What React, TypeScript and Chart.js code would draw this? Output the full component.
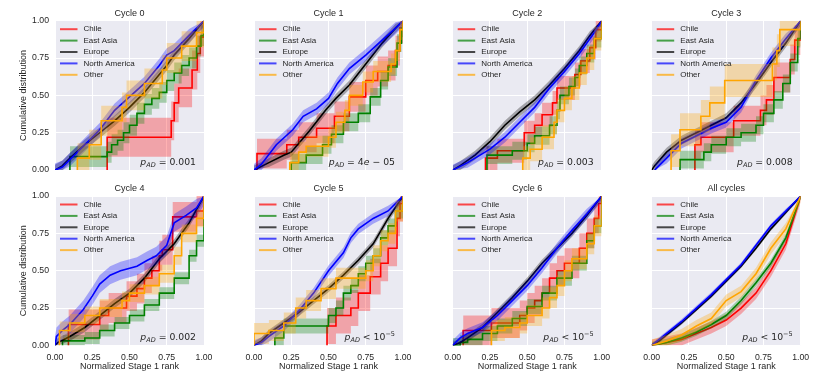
import React, { useEffect, useRef } from 'react';
import { Chart, registerables } from 'chart.js';

Chart.register(...registerables);

type Pt = [number, number];

const groups = ['Chile', 'East Asia', 'Europe', 'North America', 'Other'];
const groupColors: [number, number, number][] = [
  [255, 0, 0],
  [0, 128, 0],
  [0, 0, 0],
  [0, 0, 255],
  [255, 165, 0],
];
const panelTitles = ['Cycle 0', 'Cycle 1', 'Cycle 2', 'Cycle 3', 'Cycle 4', 'Cycle 5', 'Cycle 6', 'All cycles'];
const tickValues = [0, 0.25, 0.5, 0.75, 1];
const yAxisTitle = 'Cumulative distribution';
const xAxisTitle = 'Normalized Stage 1 rank';
const pOps = ['=', '=', '=', '=', '=', '<', '<', '<'];
const pValues = ['0.001', '4e-05', '0.003', '0.008', '0.002', '10', '10', '10'];
const pExps = ['', '', '', '', '', '\u22125', '\u22125', '\u22125'];

// ---- Cycle 0 ----
const c0Chile: Pt[] = [[0.35, 0], [0.35, 0.22], [0.78, 0.33], [0.8, 0.45], [0.83, 0.55], [0.92, 0.67], [0.955, 0.78], [0.975, 0.89], [1, 1]];
const c0EastAsia: Pt[] = [[0.1, 0], [0.1, 0.09], [0.35, 0.12], [0.38, 0.17], [0.42, 0.2], [0.46, 0.25], [0.5, 0.3], [0.55, 0.38], [0.6, 0.44], [0.65, 0.48], [0.7, 0.52], [0.75, 0.6], [0.8, 0.65], [0.85, 0.7], [0.9, 0.75], [0.95, 0.83], [0.98, 0.9], [1, 1]];
const c0Europe: Pt[] = [[0, 0], [0.05, 0.03], [0.1, 0.08], [0.2, 0.17], [0.25, 0.21], [0.3, 0.25], [0.4, 0.33], [0.5, 0.42], [0.6, 0.52], [0.7, 0.64], [0.75, 0.7], [0.8, 0.77], [0.9, 0.88], [1, 1]];
const c0NorthAmerica: Pt[] = [[0, 0], [0.05, 0.02], [0.1, 0.07], [0.2, 0.17], [0.3, 0.27], [0.4, 0.4], [0.5, 0.49], [0.6, 0.58], [0.7, 0.7], [0.75, 0.77], [0.8, 0.8], [0.9, 0.9], [1, 1]];
const c0Other: Pt[] = [[0.15, 0], [0.15, 0.08], [0.23, 0.17], [0.31, 0.33], [0.45, 0.42], [0.48, 0.5], [0.6, 0.58], [0.72, 0.67], [0.75, 0.75], [0.85, 0.83], [0.95, 0.92], [1, 1]];

// ---- Cycle 1 ----
const c1Chile: Pt[] = [[0.02, 0], [0.02, 0.11], [0.22, 0.17], [0.3, 0.22], [0.42, 0.28], [0.54, 0.36], [0.64, 0.49], [0.75, 0.6], [0.83, 0.66], [0.9, 0.7], [0.95, 0.8], [0.98, 0.95], [1, 1]];
const c1EastAsia: Pt[] = [[0.25, 0], [0.25, 0.05], [0.35, 0.1], [0.46, 0.17], [0.52, 0.24], [0.6, 0.32], [0.7, 0.38], [0.78, 0.49], [0.85, 0.6], [0.9, 0.69], [0.96, 0.85], [0.99, 0.95], [1, 1]];
const c1Europe: Pt[] = [[0, 0], [0.1, 0.05], [0.2, 0.1], [0.25, 0.12], [0.37, 0.26], [0.48, 0.4], [0.55, 0.48], [0.64, 0.57], [0.75, 0.71], [0.86, 0.85], [0.95, 0.95], [1, 1]];
const c1NorthAmerica: Pt[] = [[0, 0], [0.05, 0.04], [0.15, 0.17], [0.26, 0.27], [0.33, 0.36], [0.42, 0.41], [0.5, 0.48], [0.56, 0.58], [0.64, 0.68], [0.75, 0.77], [0.86, 0.87], [0.95, 0.95], [1, 1]];
const c1Other: Pt[] = [[0.24, 0], [0.24, 0.05], [0.3, 0.12], [0.35, 0.16], [0.5, 0.22], [0.55, 0.32], [0.61, 0.4], [0.64, 0.5], [0.73, 0.59], [0.8, 0.66], [0.92, 0.71], [0.95, 0.8], [0.98, 0.94], [1, 1]];

// ---- Cycle 2 ----
const c2Chile: Pt[] = [[0.22, 0], [0.22, 0.08], [0.3, 0.13], [0.48, 0.25], [0.55, 0.3], [0.6, 0.37], [0.67, 0.45], [0.7, 0.55], [0.82, 0.64], [0.86, 0.73], [0.92, 0.82], [0.96, 0.94], [1, 1]];
const c2EastAsia: Pt[] = [[0.23, 0], [0.23, 0.1], [0.4, 0.13], [0.5, 0.18], [0.55, 0.23], [0.65, 0.3], [0.7, 0.4], [0.72, 0.5], [0.78, 0.56], [0.82, 0.62], [0.85, 0.7], [0.9, 0.78], [0.95, 0.88], [1, 1]];
const c2Europe: Pt[] = [[0, 0], [0.05, 0.03], [0.15, 0.1], [0.25, 0.19], [0.35, 0.3], [0.45, 0.39], [0.55, 0.47], [0.65, 0.57], [0.75, 0.68], [0.85, 0.8], [0.92, 0.9], [1, 1]];
const c2NorthAmerica: Pt[] = [[0, 0], [0.1, 0.05], [0.25, 0.14], [0.35, 0.22], [0.45, 0.32], [0.55, 0.42], [0.65, 0.55], [0.75, 0.66], [0.85, 0.78], [0.95, 0.92], [1, 1]];
const c2Other: Pt[] = [[0.47, 0], [0.47, 0.08], [0.52, 0.14], [0.6, 0.22], [0.68, 0.32], [0.7, 0.4], [0.75, 0.48], [0.8, 0.55], [0.85, 0.65], [0.9, 0.75], [0.95, 0.88], [1, 1]];

// ---- Cycle 3 ----
const c3Chile: Pt[] = [[0.29, 0], [0.29, 0.17], [0.33, 0.22], [0.55, 0.33], [0.73, 0.4], [0.77, 0.47], [0.82, 0.62], [0.93, 0.74], [0.96, 0.87], [1, 1]];
const c3EastAsia: Pt[] = [[0.19, 0], [0.19, 0.07], [0.35, 0.12], [0.4, 0.17], [0.5, 0.22], [0.6, 0.25], [0.7, 0.3], [0.75, 0.38], [0.82, 0.47], [0.88, 0.58], [0.93, 0.72], [0.98, 0.88], [1, 1]];
const c3Europe: Pt[] = [[0, 0], [0.02, 0.03], [0.1, 0.12], [0.2, 0.2], [0.3, 0.25], [0.4, 0.3], [0.5, 0.35], [0.6, 0.45], [0.7, 0.58], [0.8, 0.72], [0.9, 0.85], [1, 1]];
const c3NorthAmerica: Pt[] = [[0.02, 0], [0.1, 0.08], [0.2, 0.18], [0.3, 0.23], [0.4, 0.28], [0.5, 0.32], [0.6, 0.42], [0.7, 0.6], [0.8, 0.75], [0.9, 0.88], [1, 1]];
const c3Other: Pt[] = [[0.13, 0], [0.13, 0.13], [0.19, 0.27], [0.33, 0.36], [0.39, 0.45], [0.49, 0.6], [0.81, 0.71], [0.84, 0.8], [0.86, 0.94], [1, 1]];

// ---- Cycle 4 ----
const c4Chile: Pt[] = [[0.09, 0], [0.09, 0.14], [0.3, 0.2], [0.36, 0.25], [0.48, 0.33], [0.55, 0.38], [0.6, 0.45], [0.65, 0.5], [0.7, 0.6], [0.72, 0.64], [0.79, 0.86], [0.95, 0.9], [1, 1]];
const c4EastAsia: Pt[] = [[0.05, 0], [0.05, 0.03], [0.2, 0.05], [0.3, 0.1], [0.4, 0.15], [0.5, 0.2], [0.6, 0.27], [0.7, 0.35], [0.8, 0.45], [0.9, 0.6], [0.95, 0.7], [1, 1]];
const c4Europe: Pt[] = [[0, 0], [0.02, 0.02], [0.1, 0.06], [0.2, 0.12], [0.3, 0.2], [0.4, 0.28], [0.5, 0.35], [0.6, 0.45], [0.7, 0.58], [0.8, 0.68], [0.9, 0.82], [1, 1]];
const c4NorthAmerica: Pt[] = [[0, 0], [0.01, 0.06], [0.05, 0.1], [0.1, 0.14], [0.19, 0.24], [0.25, 0.33], [0.3, 0.41], [0.37, 0.47], [0.44, 0.5], [0.55, 0.53], [0.62, 0.57], [0.68, 0.6], [0.75, 0.67], [0.8, 0.82], [0.88, 0.87], [0.95, 0.92], [1, 1]];
const c4Other: Pt[] = [[0.03, 0], [0.03, 0.1], [0.1, 0.15], [0.2, 0.2], [0.3, 0.25], [0.45, 0.3], [0.5, 0.35], [0.6, 0.4], [0.7, 0.48], [0.8, 0.6], [0.85, 0.75], [0.95, 0.85], [1, 1]];

// ---- Cycle 5 ----
const c5Chile: Pt[] = [[0.49, 0], [0.49, 0.13], [0.55, 0.2], [0.65, 0.25], [0.7, 0.35], [0.78, 0.46], [0.85, 0.55], [0.9, 0.65], [0.96, 0.85], [0.98, 0.95], [1, 1]];
const c5EastAsia: Pt[] = [[0.14, 0], [0.14, 0.05], [0.2, 0.13], [0.5, 0.2], [0.55, 0.25], [0.6, 0.35], [0.65, 0.4], [0.7, 0.48], [0.75, 0.55], [0.8, 0.6], [0.85, 0.72], [0.9, 0.8], [0.95, 0.9], [1, 1]];
const c5Europe: Pt[] = [[0, 0], [0.05, 0.03], [0.1, 0.08], [0.2, 0.15], [0.3, 0.22], [0.4, 0.3], [0.5, 0.38], [0.6, 0.47], [0.7, 0.57], [0.8, 0.68], [0.9, 0.85], [1, 1]];
const c5NorthAmerica: Pt[] = [[0, 0], [0.05, 0.02], [0.1, 0.06], [0.2, 0.13], [0.3, 0.23], [0.4, 0.35], [0.5, 0.5], [0.6, 0.62], [0.65, 0.72], [0.7, 0.78], [0.8, 0.85], [0.9, 0.9], [1, 1]];
const c5Other: Pt[] = [[0, 0], [0, 0.08], [0.1, 0.1], [0.2, 0.15], [0.28, 0.25], [0.35, 0.3], [0.45, 0.38], [0.55, 0.45], [0.75, 0.5], [0.8, 0.6], [0.85, 0.7], [0.9, 0.75], [0.95, 0.9], [1, 1]];

// ---- Cycle 6 ----
const c6Chile: Pt[] = [[0.07, 0], [0.07, 0.1], [0.26, 0.15], [0.45, 0.2], [0.5, 0.25], [0.55, 0.3], [0.6, 0.35], [0.65, 0.45], [0.7, 0.5], [0.75, 0.55], [0.85, 0.65], [0.9, 0.75], [0.95, 0.85], [0.98, 0.95], [1, 1]];
const c6EastAsia: Pt[] = [[0, 0], [0.05, 0.02], [0.1, 0.04], [0.2, 0.08], [0.3, 0.13], [0.4, 0.18], [0.5, 0.26], [0.6, 0.35], [0.7, 0.45], [0.8, 0.55], [0.9, 0.7], [0.95, 0.8], [1, 1]];
const c6Europe: Pt[] = [[0, 0], [0.05, 0.02], [0.1, 0.05], [0.2, 0.12], [0.3, 0.22], [0.4, 0.32], [0.5, 0.43], [0.6, 0.55], [0.7, 0.65], [0.8, 0.75], [0.9, 0.87], [1, 1]];
const c6NorthAmerica: Pt[] = [[0, 0], [0.05, 0.05], [0.1, 0.08], [0.2, 0.12], [0.3, 0.2], [0.4, 0.3], [0.5, 0.4], [0.6, 0.52], [0.7, 0.65], [0.8, 0.77], [0.9, 0.88], [1, 1]];
const c6Other: Pt[] = [[0.26, 0], [0.26, 0.1], [0.35, 0.12], [0.45, 0.15], [0.5, 0.2], [0.6, 0.25], [0.65, 0.32], [0.7, 0.4], [0.75, 0.5], [0.8, 0.58], [0.9, 0.68], [0.95, 0.8], [1, 1]];

// ---- All cycles ----
const allChile: Pt[] = [[0, 0], [0.1, 0.02], [0.2, 0.04], [0.3, 0.08], [0.4, 0.12], [0.5, 0.17], [0.6, 0.25], [0.7, 0.35], [0.8, 0.5], [0.9, 0.68], [1, 1]];
const allEastAsia: Pt[] = [[0, 0], [0.1, 0.02], [0.2, 0.05], [0.3, 0.09], [0.4, 0.14], [0.5, 0.2], [0.6, 0.3], [0.7, 0.42], [0.8, 0.55], [0.9, 0.72], [1, 1]];
const allEurope: Pt[] = [[0, 0], [0.05, 0.03], [0.1, 0.07], [0.2, 0.15], [0.3, 0.24], [0.4, 0.33], [0.5, 0.43], [0.6, 0.53], [0.7, 0.65], [0.8, 0.78], [0.9, 0.89], [1, 1]];
const allNorthAmerica: Pt[] = [[0, 0], [0.05, 0.04], [0.1, 0.08], [0.2, 0.16], [0.3, 0.25], [0.4, 0.34], [0.5, 0.44], [0.6, 0.54], [0.7, 0.67], [0.8, 0.8], [0.9, 0.9], [1, 1]];
const allOther: Pt[] = [[0, 0], [0.1, 0.03], [0.2, 0.07], [0.3, 0.13], [0.4, 0.18], [0.5, 0.3], [0.6, 0.36], [0.7, 0.48], [0.8, 0.65], [0.9, 0.78], [1, 1]];

const panelCurves: Pt[][][] = [
  [c0Chile, c0EastAsia, c0Europe, c0NorthAmerica, c0Other],
  [c1Chile, c1EastAsia, c1Europe, c1NorthAmerica, c1Other],
  [c2Chile, c2EastAsia, c2Europe, c2NorthAmerica, c2Other],
  [c3Chile, c3EastAsia, c3Europe, c3NorthAmerica, c3Other],
  [c4Chile, c4EastAsia, c4Europe, c4NorthAmerica, c4Other],
  [c5Chile, c5EastAsia, c5Europe, c5NorthAmerica, c5Other],
  [c6Chile, c6EastAsia, c6Europe, c6NorthAmerica, c6Other],
  [allChile, allEastAsia, allEurope, allNorthAmerica, allOther],
];

// confidence band half-widths per group (Chile, East Asia, Europe, North America, Other)
const c0Bands = [0.13, 0.07, 0.035, 0.045, 0.1];
const c1Bands = [0.1, 0.06, 0.03, 0.04, 0.07];
const c2Bands = [0.08, 0.06, 0.03, 0.035, 0.08];
const c3Bands = [0.1, 0.06, 0.03, 0.035, 0.11];
const c4Bands = [0.1, 0.04, 0.03, 0.06, 0.06];
const c5Bands = [0.12, 0.05, 0.025, 0.035, 0.07];
const c6Bands = [0.1, 0.05, 0.025, 0.035, 0.07];
const allBands = [0.04, 0.025, 0.012, 0.015, 0.04];
const panelBands = [c0Bands, c1Bands, c2Bands, c3Bands, c4Bands, c5Bands, c6Bands, allBands];

const cycleStepped = [true, true, false, false, true];
const allStepped = [false, false, false, false, false];
const panelStepped = [cycleStepped, cycleStepped, cycleStepped, cycleStepped, cycleStepped, cycleStepped, cycleStepped, allStepped];

// ---- layout ----
const W = 831;
const H = 381;
const PANEL_LEFT = [55, 254, 452.7, 651.7];
const PANEL_TOP = [20.7, 196];
const PANEL_W = 149;
const PANEL_H = 149.4;
const Y_AXIS_W = 45;
const X_AXIS_H = 25;
const TEXT = '#262626';
const SANS = '"Liberation Sans", Arial, sans-serif';
const MATH = '"DejaVu Sans", sans-serif';

const rgba = (c: [number, number, number], a: number) => `rgba(${c[0]},${c[1]},${c[2]},${a})`;

function drawAnnotation(ctx: CanvasRenderingContext2D, right: number, baseline: number, idx: number) {
  const fs = 9.3;
  const segs: { t: string; f: string; dy: number }[] = [
    { t: 'p', f: `italic ${fs}px ${MATH}`, dy: 0 },
    { t: 'AD', f: `italic ${fs * 0.7}px ${MATH}`, dy: fs * 0.22 },
  ];
  const op = pOps[idx];
  const val = pValues[idx];
  segs.push({ t: ` ${op} `, f: `${fs}px ${MATH}`, dy: 0 });
  if (val.includes('e-')) {
    const [m, e] = val.split('e-');
    segs.push({ t: m, f: `${fs}px ${MATH}`, dy: 0 });
    segs.push({ t: 'e', f: `italic ${fs}px ${MATH}`, dy: 0 });
    segs.push({ t: ` \u2212 ${e}`, f: `${fs}px ${MATH}`, dy: 0 });
  } else {
    segs.push({ t: val, f: `${fs}px ${MATH}`, dy: 0 });
  }
  if (pExps[idx]) segs.push({ t: pExps[idx], f: `${fs * 0.7}px ${MATH}`, dy: -fs * 0.42 });
  let total = 0;
  const widths = segs.map((s) => {
    ctx.font = s.f;
    const w = ctx.measureText(s.t).width;
    total += w;
    return w;
  });
  let x = right - total;
  ctx.fillStyle = TEXT;
  ctx.textAlign = 'left';
  ctx.textBaseline = 'alphabetic';
  segs.forEach((s, i) => {
    ctx.font = s.f;
    ctx.fillText(s.t, x, baseline + s.dy);
    x += widths[i];
  });
}

function Panel({ index }: { index: number }) {
  const ref = useRef<HTMLCanvasElement>(null);
  useEffect(() => {
    const canvas = ref.current;
    if (!canvas) return;
    const col = index % 4;
    const row = Math.floor(index / 4);
    const left = PANEL_LEFT[col];
    const top = PANEL_TOP[row];
    const datasets: any[] = [];
    let k = 0;
    panelCurves[index].forEach((pts, g) => {
      const eps = panelBands[index][g];
      const stepped = panelStepped[index][g];
      const color = groupColors[g];
      const lowerIdx = datasets.length;
      datasets.push({
        label: groups[g] + ' lower',
        data: pts.map(([x, y]) => ({ x, y: Math.max(0, y - eps) })),
        borderColor: 'rgba(0,0,0,0)',
        borderWidth: 1,
        pointRadius: 0,
        fill: false,
        stepped,
        order: -k++,
      });
      datasets.push({
        label: groups[g] + ' upper',
        data: pts.map(([x, y]) => ({ x, y: Math.min(1, y + eps) })),
        borderColor: 'rgba(0,0,0,0)',
        borderWidth: 1,
        backgroundColor: rgba(color, 0.3),
        pointRadius: 0,
        fill: lowerIdx,
        stepped,
        order: -k++,
      });
      datasets.push({
        label: groups[g],
        data: pts.map(([x, y]) => ({ x, y })),
        borderColor: rgba(color, 1),
        borderWidth: 1.6,
        pointRadius: 0,
        fill: false,
        stepped,
        order: -k++,
      });
    });

    const tickFont = { family: SANS, size: 8.7 };
    const panelDecor = {
      id: 'panelDecor',
      beforeDraw(chart: any) {
        const { ctx, chartArea: a } = chart;
        ctx.save();
        ctx.fillStyle = '#EAEAF2';
        ctx.fillRect(a.left, a.top, a.right - a.left, a.bottom - a.top);
        ctx.restore();
      },
      afterDraw(chart: any) {
        const { ctx, chartArea: a } = chart;
        ctx.save();
        // title
        ctx.fillStyle = TEXT;
        ctx.font = `9px ${SANS}`;
        ctx.textAlign = 'center';
        ctx.textBaseline = 'middle';
        ctx.fillText(panelTitles[index], (a.left + a.right) / 2, a.top - 7.5);
        // legend
        groups.forEach((name, g) => {
          const y = a.top + 8.5 + g * 11.4;
          ctx.strokeStyle = rgba(groupColors[g], 0.7);
          ctx.lineWidth = 2;
          ctx.beginPath();
          ctx.moveTo(a.left + 5, y);
          ctx.lineTo(a.left + 22.5, y);
          ctx.stroke();
          ctx.fillStyle = TEXT;
          ctx.font = `8px ${SANS}`;
          ctx.textAlign = 'left';
          ctx.textBaseline = 'middle';
          ctx.fillText(name, a.left + 28.5, y);
        });
        // p-value annotation
        drawAnnotation(ctx, a.right - 8, a.bottom - 5, index);
        // axis titles
        ctx.fillStyle = TEXT;
        ctx.font = `9px ${SANS}`;
        if (col === 0) {
          ctx.save();
          ctx.translate(24, (a.top + a.bottom) / 2);
          ctx.rotate(-Math.PI / 2);
          ctx.textAlign = 'center';
          ctx.textBaseline = 'middle';
          ctx.fillText(yAxisTitle, 0, 0);
          ctx.restore();
        }
        if (row === 1) {
          ctx.textAlign = 'center';
          ctx.textBaseline = 'middle';
          ctx.fillText(xAxisTitle, (a.left + a.right) / 2, 366.7);
        }
        ctx.restore();
      },
    };

    const chart = new Chart(canvas, {
      type: 'line',
      data: { datasets },
      options: {
        animation: false,
        responsive: false,
        devicePixelRatio: 1,
        events: [],
        layout: {
          autoPadding: false,
          padding: {
            left: left - Y_AXIS_W,
            top,
            right: W - left - PANEL_W,
            bottom: H - top - PANEL_H - X_AXIS_H,
          },
        },
        plugins: { legend: { display: false }, tooltip: { enabled: false }, title: { display: false } },
        scales: {
          x: {
            type: 'linear',
            min: 0,
            max: 1,
            afterFit: (s: any) => { s.height = X_AXIS_H; },
            afterBuildTicks: (s: any) => { s.ticks = tickValues.map((v) => ({ value: v })); },
            ticks: {
              display: row === 1,
              autoSkip: false,
              maxRotation: 0,
              padding: 7,
              font: tickFont,
              color: TEXT,
              callback: (v: any) => Number(v).toFixed(2),
            },
            grid: { color: '#ffffff', lineWidth: 1, drawTicks: false },
            border: { display: false },
          },
          y: {
            type: 'linear',
            min: 0,
            max: 1,
            afterFit: (s: any) => { s.width = Y_AXIS_W; },
            afterBuildTicks: (s: any) => { s.ticks = tickValues.map((v) => ({ value: v })); },
            ticks: {
              display: col === 0,
              autoSkip: false,
              padding: 6,
              font: tickFont,
              color: TEXT,
              callback: (v: any) => Number(v).toFixed(2),
            },
            grid: { color: '#ffffff', lineWidth: 1, drawTicks: false },
            border: { display: false },
          },
        },
      } as any,
      plugins: [panelDecor],
    });
    return () => chart.destroy();
  }, [index]);
  return <canvas ref={ref} width={W} height={H} style={{ position: 'absolute', left: 0, top: 0, width: W, height: H }} />;
}

export default function App() {
  return (
    <div style={{ position: 'absolute', left: 0, top: 0, width: W, height: H, background: '#ffffff' }}>
      {panelTitles.map((_, i) => (
        <Panel key={i} index={i} />
      ))}
    </div>
  );
}
